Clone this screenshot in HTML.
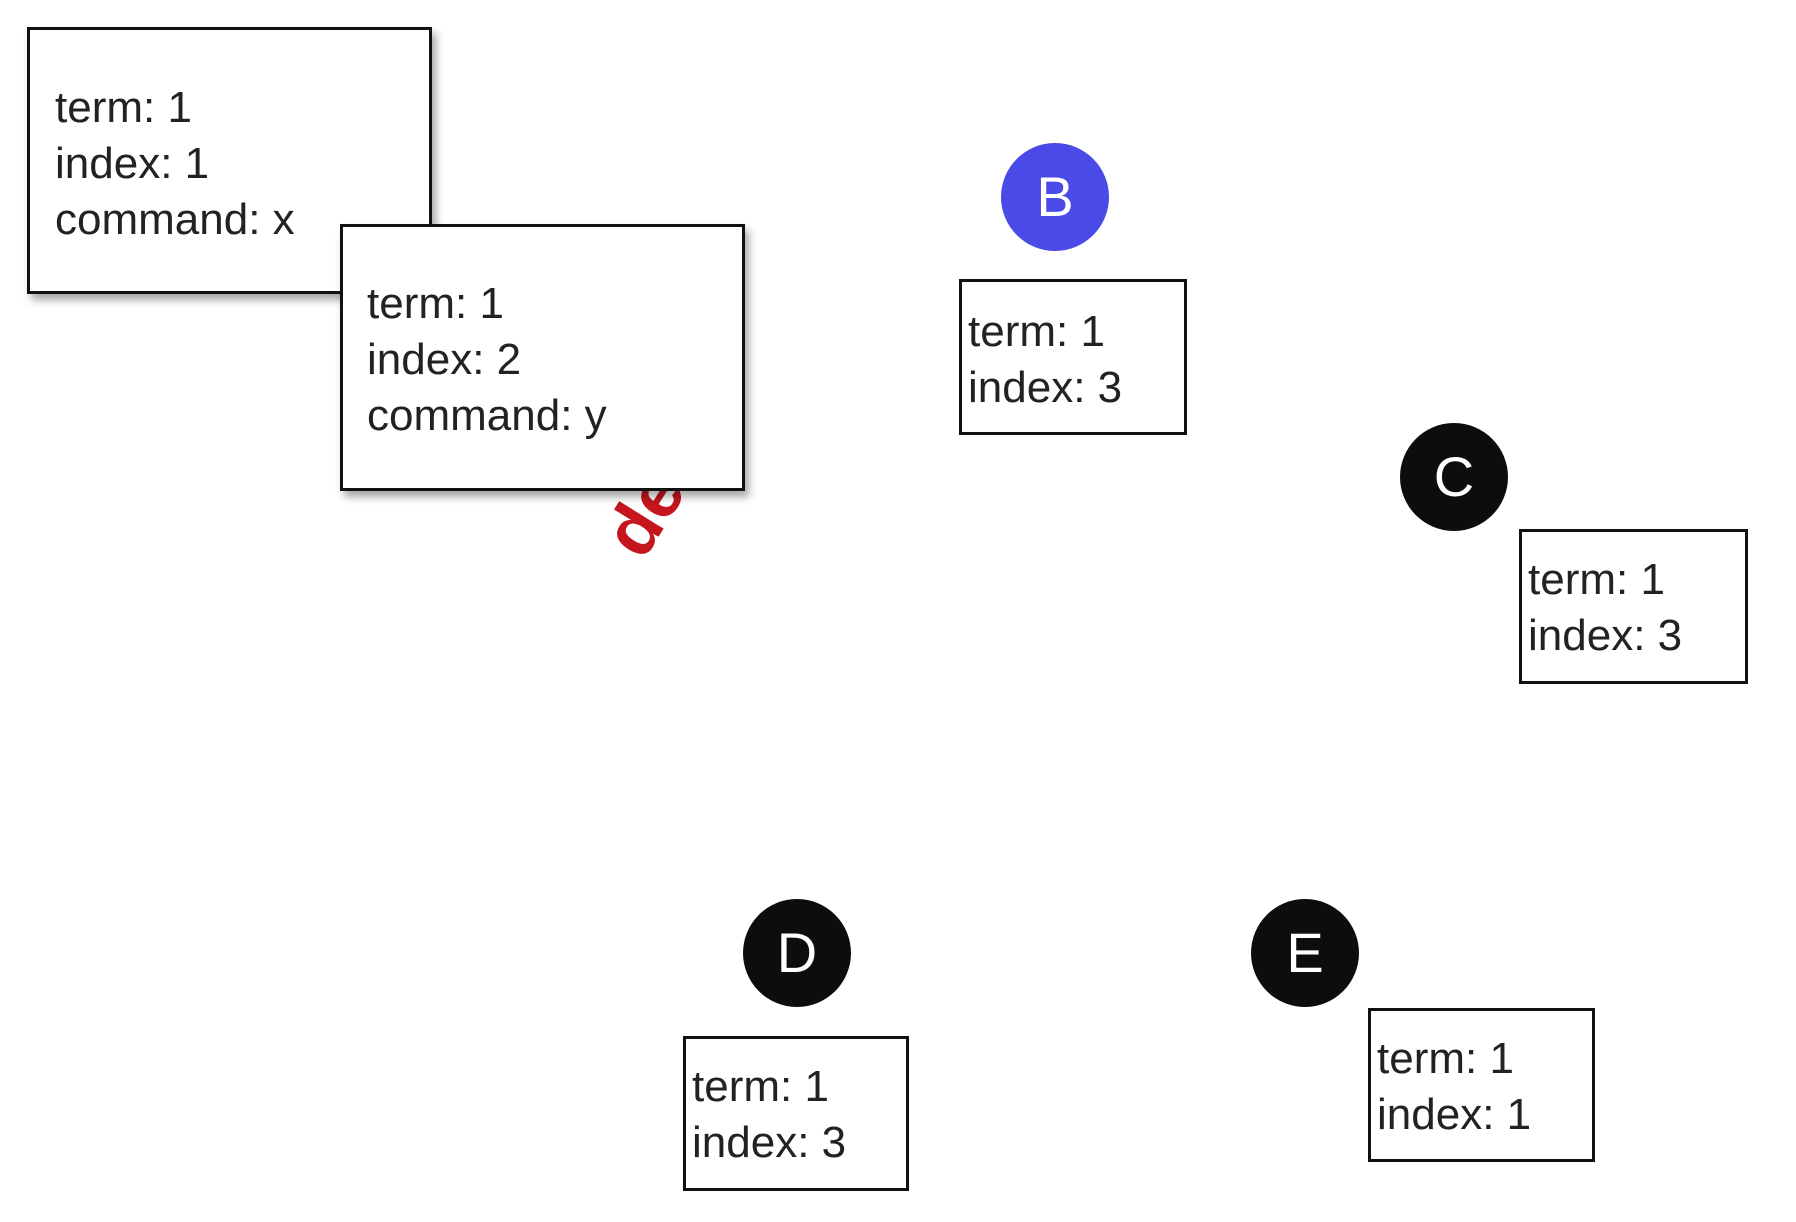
<!DOCTYPE html>
<html><head><meta charset="utf-8"><style>
html,body{margin:0;padding:0;width:1796px;height:1222px;background:#fff;overflow:hidden;position:relative;font-family:"Liberation Sans",sans-serif;}
.box{position:absolute;background:#fff;border:3px solid #111;box-sizing:border-box;}
.sh{box-shadow:4px 6px 8px rgba(0,0,0,0.35);}
.t{position:absolute;font-size:44px;color:#222;line-height:56px;white-space:nowrap;}
.c{position:absolute;border-radius:50%;background:#0b0d0e;color:#fff;font-size:56px;text-align:center;}
</style></head><body>
<div style="position:absolute;left:592px;top:530px;transform-origin:0 0;transform:rotate(-58deg);color:#c4161c;font-weight:bold;font-size:72px;line-height:72px;white-space:nowrap;">dead</div>

<div class="box sh" style="left:27px;top:27px;width:405px;height:267px;"></div>
<div class="t" style="left:55px;top:80px;">term: 1<br>index: 1<br>command: x</div>

<div class="box sh" style="left:340px;top:224px;width:405px;height:267px;"></div>
<div class="t" style="left:367px;top:276px;">term: 1<br>index: 2<br>command: y</div>

<div class="c" style="left:1001px;top:143px;width:108px;height:108px;line-height:108px;background:#4a4ae6;">B</div>
<div class="box" style="left:959px;top:279px;width:228px;height:156px;"></div>
<div class="t" style="left:968px;top:304px;">term: 1<br>index: 3</div>

<div class="c" style="left:1400px;top:423px;width:108px;height:108px;line-height:108px;">C</div>
<div class="box" style="left:1519px;top:529px;width:229px;height:155px;"></div>
<div class="t" style="left:1528px;top:552px;">term: 1<br>index: 3</div>

<div class="c" style="left:743px;top:899px;width:108px;height:108px;line-height:108px;">D</div>
<div class="box" style="left:683px;top:1036px;width:226px;height:155px;"></div>
<div class="t" style="left:692px;top:1059px;">term: 1<br>index: 3</div>

<div class="c" style="left:1251px;top:899px;width:108px;height:108px;line-height:108px;">E</div>
<div class="box" style="left:1368px;top:1008px;width:227px;height:154px;"></div>
<div class="t" style="left:1377px;top:1031px;">term: 1<br>index: 1</div>
</body></html>
